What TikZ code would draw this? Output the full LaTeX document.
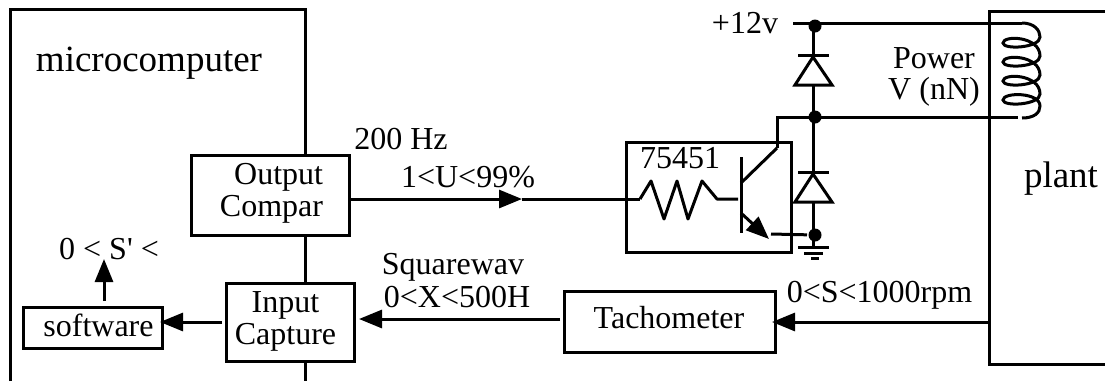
\documentclass[tikz,border=0pt]{standalone}
\usepackage{fontspec}
\setmainfont{Liberation Serif}
\usetikzlibrary{arrows.meta}
\tikzset{box/.style = {shape=rectangle,draw,inner sep=0pt,line width=3pt}}
\tikzset{txt/.style = {inner sep=0pt,align=center,font=\fontsize{32}{32}\selectfont}}
\tikzset{bigtxt/.style = {inner sep=0pt,font=\fontsize{37}{37}\selectfont}}
\tikzset{dot/.style = {shape=circle,fill=black,inner sep=0pt,minimum size=13pt}}
\tikzset{edge/.style = {-{Triangle[length=23pt,width=18pt]},line width=3pt}}

\begin{document}
\begin{tikzpicture}[x=1pt,y=-1pt,line width=3pt]
      \useasboundingbox (0,0) rectangle (1105,381);

      % outer blocks
      \coordinate (mcbl) at (10,381);
      \coordinate (mctl) at (10,9);
      \coordinate (mctr) at (305,9);
      \coordinate (mcbr) at (305,381);
      \coordinate (pltr) at (1105,11);
      \coordinate (pltl) at (989,11);
      \coordinate (plbl) at (989,364);
      \coordinate (plbr) at (1105,364);
      \draw (mcbl) -- (mctl) -- (mctr) -- (mcbr);
      \draw (pltr) -- (pltl) -- (plbl) -- (plbr);
      \node[bigtxt] (micro) at (149,63) {microcomputer};
      \node[bigtxt] (plant) at (1061,179) {plant};

      % boxes
      \node[box,fill=white,minimum width=158pt,minimum height=80pt] (compare) at (270,195) {};
      \node[box,fill=white,minimum width=128pt,minimum height=78pt] (capture) at (290,322) {};
      \node[box,fill=white,minimum width=139pt,minimum height=41pt] (soft) at (92.5,327.5) {};
      \node[box,fill=white,minimum width=211pt,minimum height=61pt] (tacho) at (669.5,321.5) {};
      \node[box,minimum width=165pt,minimum height=110pt] (driver) at (708.5,197) {};
      \node[txt,align=right] (comparetxt) at (271.5,193.5) {Output\\Compar};
      \node[txt] (capturetxt) at (285.5,321) {Input\\Capture};
      \node[txt] (softtxt) at (98.5,325) {software};
      \node[txt] (tachotxt) at (669,318) {Tachometer};
      \node[txt] (drivertxt) at (680,158) {75451};

      % labels
      \node[txt] (hz) at (401,139) {200 Hz};
      \node[txt] (duty) at (468,177) {1<U<99\%};
      \node[txt] (square) at (453,267) {Squarewav};
      \node[txt] (freq) at (457,297) {0<X<500H};
      \node[txt] (speed) at (879.5,295) {0<S<1000rpm};
      \node[txt] (sprime) at (109,249) {0 < S\textquotesingle{} <};
      \node[txt] (vcclbl) at (745,23) {+12v};
      \node[txt] (power) at (934,58) {Power};
      \node[txt] (volt) at (934,92) {V (nN)};

      % signal path
      \coordinate (duty0) at (522,199);
      \coordinate (res0) at (640,199);
      \coordinate (softup) at (104,301);
      \coordinate (sprimetip) at (104,259);
      \coordinate (capleft) at (222,322);
      \coordinate (softtip) at (160,322);
      \coordinate (tachoin) at (560,319);
      \coordinate (caparrow) at (359,319);
      \coordinate (tachoarrow) at (772,322);
      \coordinate (plantout) at (989,322);
      \draw[edge] (compare.east |- duty0) to (duty0);
      \draw (duty0) -- (res0);
      \draw[edge] (capleft) to (softtip);
      \draw[edge] (softup) to (sprimetip);
      \draw[edge] (tachoin) to (caparrow);
      \draw[edge] (plantout) to (tachoarrow);

      % resistor and transistor
      \coordinate (base) at (738,199);
      \draw[line join=round] (res0) -- (651,181) -- (664,219) -- (677,181) -- (688,219) -- (702,181) -- (717,199) -- (base);
      \coordinate (baset) at (741,157);
      \coordinate (baseb) at (741,233);
      \draw (baset) -- (baseb);
      \coordinate (coll) at (777,148);
      \coordinate (collb) at (741,183);
      \draw (collb) -- (coll);
      \coordinate (emit) at (741,213);
      \coordinate (emittip) at (769,239);
      \draw[edge] (emit) to (emittip);

      % supply rail and diodes
      \node[dot] (vcc) at (815,26) {};
      \node[dot] (mid) at (815,117) {};
      \node[dot] (gnd) at (815,235) {};
      \coordinate (vcc0) at (793,23);
      \coordinate (coil0) at (1022,23);
      \coordinate (coil1) at (1018,117);
      \coordinate (collt) at (777,117);
      \coordinate (emit0) at (771,234);
      \draw (vcc0) -- (coil0);
      \draw (coll) -- (collt) -- (coil1);
      \draw (emit0) -- (gnd);
      \draw (813,23) -- (813,55);
      \draw (813,84) -- (813,172);
      \draw (813,202) -- (813,247);
      \foreach \y in {55,172} {
        \draw (798,\y) -- (829,\y);
        \draw[line join=miter] (813,\y+2) -- (795,\y+30) -- (832,\y+30) -- cycle;
      }
      \draw (798,247) -- (829,247);
      \draw (804,253) -- (823,253);
      \draw (811,258) -- (819,258);

      % coil
      \draw (coil0) .. controls (1034,23) and (1040,30) .. (1040,37)
        .. controls (1040,48) and (1003,50) .. (1003,43)
        .. controls (1003,35) and (1040,36) .. (1040,56)
        .. controls (1040,67) and (1003,69) .. (1003,62)
        .. controls (1003,54) and (1040,55) .. (1040,75)
        .. controls (1040,86) and (1003,88) .. (1003,81)
        .. controls (1003,73) and (1040,74) .. (1040,94)
        .. controls (1040,105) and (1003,107) .. (1003,100)
        .. controls (1003,92) and (1040,92) .. (1040,106)
        .. controls (1040,113) and (1034,118) .. (1022,118);
    \end{tikzpicture}
\end{document}
